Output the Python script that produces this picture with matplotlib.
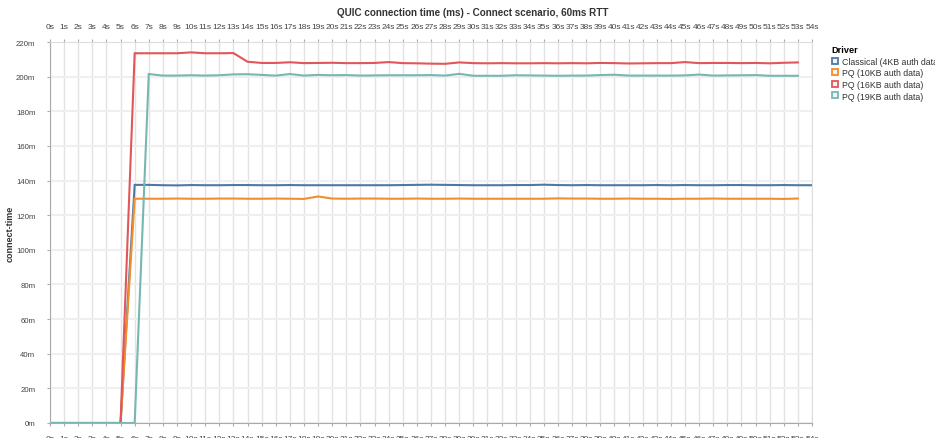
import matplotlib
matplotlib.use("Agg")
import matplotlib.pyplot as plt
from matplotlib.lines import Line2D

plt.rcParams['font.family'] = ['Liberation Sans', 'DejaVu Sans']

# seconds since start
secs = list(range(0, 55))

classical = [0, 0, 0, 0, 0, 0,
             137.5, 137.5, 137.3, 137.2, 137.4, 137.3, 137.3, 137.4, 137.4, 137.3,
             137.3, 137.4, 137.3, 137.3, 137.3, 137.3, 137.3, 137.3, 137.3, 137.4,
             137.5, 137.6, 137.5, 137.4, 137.3, 137.3, 137.3, 137.4, 137.4, 137.6,
             137.4, 137.3, 137.4, 137.3, 137.3, 137.3, 137.3, 137.4, 137.3, 137.4,
             137.3, 137.3, 137.4, 137.4, 137.3, 137.3, 137.4, 137.3, 137.3]
pq10 = [0, 0, 0, 0, 0, 0,
        129.5, 129.5, 129.5, 129.6, 129.5, 129.5, 129.6, 129.6, 129.5, 129.5,
        129.6, 129.5, 129.4, 130.8, 129.6, 129.5, 129.6, 129.6, 129.5, 129.5,
        129.6, 129.5, 129.5, 129.6, 129.5, 129.5, 129.5, 129.5, 129.5, 129.5,
        129.7, 129.6, 129.6, 129.5, 129.5, 129.6, 129.5, 129.5, 129.4, 129.5,
        129.5, 129.6, 129.5, 129.5, 129.5, 129.5, 129.4, 129.6]
pq16 = [0, 0, 0, 0, 0, 0,
        213.5, 213.5, 213.5, 213.5, 214.0, 213.5, 213.5, 213.6, 208.6, 207.9,
        207.9, 208.3, 207.8, 207.9, 208.0, 207.8, 207.8, 207.9, 208.4, 207.8,
        207.7, 207.5, 207.4, 208.2, 207.8, 207.7, 207.8, 207.7, 207.7, 207.8,
        207.7, 207.8, 207.7, 207.9, 207.8, 207.6, 207.7, 207.8, 207.8, 208.4,
        207.8, 207.9, 207.9, 207.8, 207.9, 207.7, 208.0, 208.2]
pq19 = [0, 0, 0, 0, 0, 0, 0,
        201.5, 200.6, 200.6, 200.8, 200.6, 200.8, 201.3, 201.4, 201.0,
        200.6, 201.5, 200.6, 201.0, 200.8, 200.9, 200.6, 200.7, 200.8, 200.8,
        200.8, 200.9, 200.6, 201.6, 200.5, 200.5, 200.5, 200.8, 200.7, 200.6,
        200.5, 200.6, 200.6, 200.9, 201.1, 200.6, 200.6, 200.6, 200.6, 200.7,
        201.2, 200.6, 200.7, 200.8, 200.9, 200.5, 200.5, 200.5]

names = ['Classical (4KB auth data)', 'PQ (10KB auth data)',
         'PQ (16KB auth data)', 'PQ (19KB auth data)']
colors = ['#4e79a7', '#f28e2b', '#e15759', '#76b7b2']
y_ticks = list(range(0, 221, 20))

fig = plt.figure(figsize=(9.35, 4.39), dpi=100)
ax = fig.add_axes([50 / 935, 15 / 439, 762 / 935, 381 / 439])

series = [classical, pq10, pq16, pq19]
for vals, c in zip(series, colors):
    ax.plot(secs[:len(vals)], vals, color=c, lw=1.5, solid_joinstyle='miter')

ax.set_xlim(0, 54)
ax.set_ylim(0, 220)
ax.set_xticks(secs)
ax.set_xticklabels([f'{s}s' for s in secs])
ax.set_yticks(y_ticks)
ax.set_yticklabels([f'{v}m' for v in y_ticks])
ax.tick_params(axis='x', top=True, labeltop=True, labelsize=6, colors='#aaaaaa',
               labelcolor='#444444', length=2.5, pad=6)
ax.tick_params(axis='y', labelsize=5.6, colors='#aaaaaa', labelcolor='#444444',
               length=2.5, pad=8)

ax.grid(axis='x', color='#e2e2e2', lw=1)
ax.grid(axis='y', color='#efefef', lw=1.5)
ax.set_axisbelow(True)
for side in ['left', 'bottom']:
    ax.spines[side].set_color('#aaaaaa')
for side in ['top', 'right']:
    ax.spines[side].set_color('#dddddd')

ax.set_ylabel('connect-time', fontsize=6.5, fontweight='bold', color='#333333')
ax.yaxis.set_label_coords(-35 / 762, 0.5)
fig.text(473 / 935, 1 - 13 / 439, 'QUIC connection time (ms) - Connect scenario, 60ms RTT',
         ha='center', va='center', fontsize=7.1, fontweight='bold', color='#333333')

handles = [Line2D([], [], marker='s', linestyle='none', markersize=4.2,
                  markerfacecolor='#f2f2f2', markeredgecolor=c, markeredgewidth=1.3)
           for c in colors]
leg = fig.legend(handles, names, title='Driver', loc='upper left',
                 bbox_to_anchor=(831 / 935, 1 - 46 / 439), frameon=False,
                 fontsize=6.3, title_fontsize=6.6, handletextpad=0.45,
                 labelspacing=0.3, borderaxespad=0, handlelength=0.8,
                 borderpad=0)
leg.get_title().set_fontweight('bold')
leg._legend_box.align = 'left'
for t in leg.get_texts():
    t.set_color('#333333')

fig.savefig('out.png', dpi=100)
